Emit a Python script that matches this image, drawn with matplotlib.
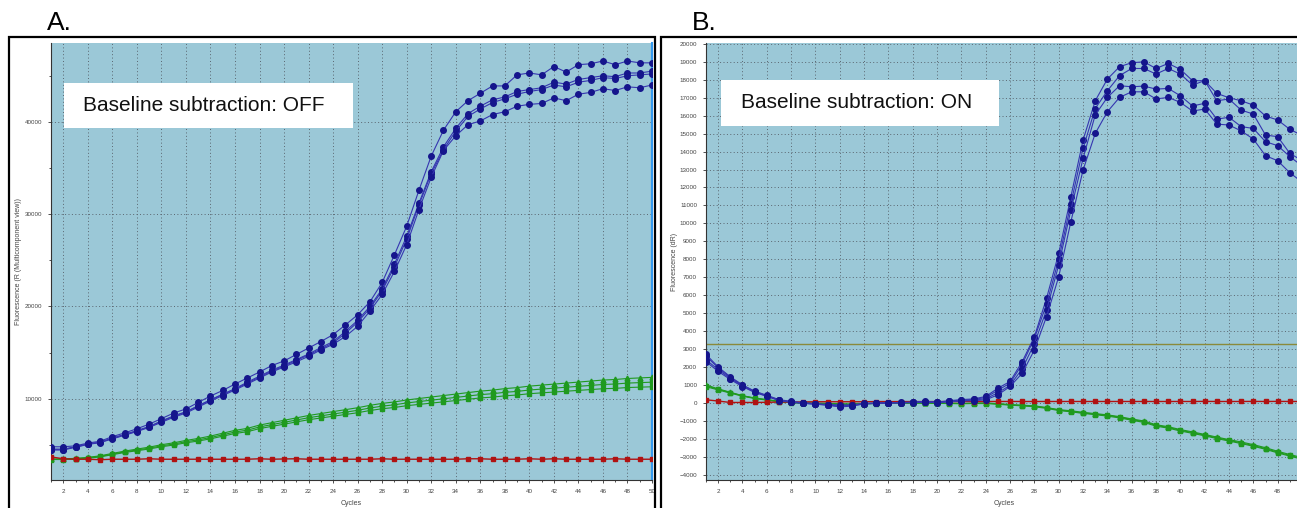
import matplotlib
matplotlib.use("Agg")
import matplotlib.pyplot as plt
from matplotlib.patches import Rectangle
from matplotlib.ticker import MultipleLocator, FixedLocator

plt.rcParams['font.family'] = ['Liberation Sans', 'DejaVu Sans']

cycles = list(range(1, 51))

# panel A - raw fluorescence (R)
a_blue1 = [4800, 4800, 4900, 5200, 5400, 5900, 6300, 6750, 7250, 7850,
           8450, 8900, 9600, 10300, 10900, 11600, 12250, 12900, 13600, 14100,
           14800, 15500, 16200, 16950, 18000, 19100, 20500, 22600, 25600, 28700,
           32600, 36300, 39100, 41100, 42300, 43100, 43900, 43900, 45100, 45300,
           45100, 46000, 45400, 46200, 46300, 46600, 46200, 46600, 46400, 46400]
a_blue2 = [4550, 4550, 4800, 5100, 5300, 5750, 6150, 6550, 7000, 7600,
           8150, 8600, 9250, 9900, 10500, 11100, 11800, 12450, 13100, 13650,
           14250, 14850, 15550, 16200, 17300, 18500, 20000, 21900, 24600, 27600,
           31200, 34600, 37300, 39300, 40900, 41700, 42400, 42700, 43300, 43500,
           43700, 44300, 44100, 44600, 44800, 45000, 44900, 45300, 45300, 45500]
a_blue3 = [4500, 4500, 4780, 5080, 5280, 5700, 6100, 6500, 6950, 7550,
           8100, 8550, 9200, 9850, 10450, 11050, 11700, 12350, 13000, 13550,
           14150, 14750, 15400, 16050, 17100, 18300, 19800, 21700, 24300, 27300,
           31000, 34400, 37000, 39000, 40600, 41400, 42100, 42500, 43000, 43300,
           43500, 44000, 43800, 44300, 44500, 44800, 44700, 45000, 45100, 45200]
a_blue4 = [4450, 4450, 4750, 5050, 5250, 5650, 6050, 6450, 6900, 7450,
           8000, 8450, 9100, 9750, 10350, 10950, 11600, 12250, 12900, 13450,
           14000, 14600, 15300, 15900, 16750, 17850, 19500, 21300, 23800, 26700,
           30500, 34000, 36900, 38500, 39700, 40100, 40800, 41100, 41700, 41900,
           42000, 42600, 42300, 43000, 43200, 43600, 43400, 43800, 43700, 44000]
a_green1 = [3450, 3480, 3550, 3650, 3820, 4080, 4330, 4550, 4760, 5020,
            5230, 5490, 5700, 5960, 6270, 6580, 6790, 7150, 7410, 7670,
            7930, 8190, 8400, 8610, 8820, 9030, 9290, 9500, 9660, 9870,
            10030, 10190, 10350, 10510, 10670, 10830, 10940, 11100, 11210, 11370,
            11480, 11590, 11700, 11810, 11920, 12030, 12090, 12200, 12260, 12320]
a_green2 = [3450, 3450, 3500, 3600, 3750, 4000, 4250, 4450, 4650, 4900,
            5100, 5350, 5550, 5800, 6100, 6400, 6600, 6950, 7200, 7450,
            7700, 7950, 8150, 8350, 8550, 8750, 9000, 9200, 9350, 9550,
            9700, 9850, 10000, 10150, 10300, 10450, 10550, 10700, 10800, 10950,
            11050, 11150, 11250, 11350, 11450, 11550, 11600, 11700, 11750, 11800]
a_green3 = [3420, 3420, 3470, 3560, 3700, 3940, 4180, 4370, 4560, 4800,
            4990, 5230, 5420, 5660, 5950, 6240, 6430, 6770, 7010, 7250,
            7490, 7730, 7920, 8110, 8300, 8490, 8730, 8920, 9060, 9250,
            9390, 9530, 9670, 9810, 9950, 10090, 10180, 10320, 10410, 10550,
            10640, 10730, 10820, 10910, 11000, 11090, 11130, 11220, 11260, 11300]
a_red = [3700, 3500, 3450, 3450, 3400, 3450, 3450, 3450, 3500, 3450,
         3450, 3450, 3450, 3450, 3450, 3450, 3450, 3500, 3450, 3480,
         3500, 3450, 3450, 3450, 3450, 3450, 3450, 3500, 3450, 3450,
         3450, 3450, 3450, 3450, 3500, 3500, 3450, 3450, 3450, 3500,
         3450, 3500, 3450, 3450, 3450, 3450, 3500, 3450, 3450, 3450]

# panel B - baseline subtracted (dR)
b_blue1 = [2700, 2000, 1450, 1000, 650, 420, 180, 80, 0, -50,
           -100, -120, -120, -30, -20, 0, 20, 40, 80, 40,
           120, 180, 220, 353, 817, 1190, 2300, 3690, 5830, 8330,
           11490, 14640, 16830, 18040, 18730, 18950, 19000, 18630, 18910, 18580,
           17950, 17950, 17240, 17000, 16830, 16590, 15980, 15760, 15240, 14900]
b_blue2 = [2600, 1950, 1400, 980, 630, 400, 160, 60, -10, -60,
           -110, -150, -140, -40, -20, 0, 10, 30, 60, 30,
           100, 150, 190, 300, 700, 1100, 2150, 3600, 5500, 8000,
           11100, 14180, 16400, 17390, 18230, 18630, 18630, 18320, 18630, 18320,
           17710, 17950, 16830, 16930, 16310, 16090, 14920, 14830, 13900, 13500]
b_blue3 = [2400, 1850, 1350, 950, 600, 380, 140, 40, -20, -70,
           -120, -200, -160, -50, -30, -10, 10, 20, 50, 20,
           80, 120, 150, 230, 560, 980, 1900, 3300, 5180, 7680,
           10750, 13620, 16040, 17020, 17670, 17610, 17650, 17480, 17520, 17110,
           16540, 16690, 15810, 15910, 15390, 15290, 14550, 14330, 13720, 13200]
b_blue4 = [2300, 1750, 1300, 900, 580, 360, 120, 30, -30, -80,
           -130, -230, -180, -60, -30, -10, 0, 10, 40, 10,
           60, 100, 120, 167, 445, 910, 1650, 2950, 4810, 7030,
           10100, 12970, 15010, 16220, 17020, 17330, 17330, 16930, 17020, 16740,
           16260, 16370, 15530, 15480, 15150, 14700, 13770, 13490, 12820, 12300]
b_green1 = [1000, 780, 590, 400, 270, 180, 90, 30, 0, -20,
            -30, -60, -70, -40, -20, -10, 0, 0, 0, -10,
            -20, -30, -20, -10, -50, -100, -130, -170, -260, -380,
            -440, -530, -600, -670, -770, -900, -1010, -1220, -1330, -1490,
            -1620, -1760, -1910, -2050, -2180, -2330, -2500, -2700, -2880, -3050]
b_green2 = [950, 750, 570, 390, 260, 170, 80, 20, -10, -30,
            -40, -70, -80, -50, -30, -20, -10, -10, -10, -20,
            -30, -40, -30, -20, -60, -110, -150, -190, -280, -400,
            -470, -560, -630, -700, -800, -930, -1050, -1260, -1370, -1530,
            -1660, -1800, -1950, -2090, -2230, -2380, -2550, -2750, -2930, -3100]
b_green3 = [900, 720, 540, 370, 240, 150, 60, 10, -20, -40,
            -50, -80, -90, -60, -40, -30, -20, -20, -20, -30,
            -40, -50, -40, -40, -80, -130, -170, -220, -310, -430,
            -500, -590, -660, -740, -840, -970, -1090, -1300, -1410, -1570,
            -1700, -1840, -1990, -2130, -2270, -2420, -2590, -2790, -2970, -3140]
b_red = [170, 100, 20, 20, 20, 30, 40, 50, 50, 60,
         60, 60, 60, 60, 70, 70, 70, 70, 70, 70,
         70, 70, 70, 75, 75, 75, 75, 75, 75, 75,
         75, 75, 75, 75, 75, 75, 75, 75, 75, 75,
         75, 80, 75, 75, 75, 80, 75, 80, 75, 75]
threshold = 3300

W, H = 1297, 508
BG = "#9bc8d7"
BLUE = "#15158c"
BLUE_LN = "#3535b0"
GREEN = "#1f9a1f"
RED = "#b01212"


def px_box(x0, y0, x1, y1):
    return [x0 / W, 1 - y1 / H, (x1 - x0) / W, (y1 - y0) / H]


def style_axes(ax, ymajor, yminor, ylabel, ypad):
    ax.set_facecolor(BG)
    ax.xaxis.set_minor_locator(MultipleLocator(1))
    ax.yaxis.set_major_locator(MultipleLocator(ymajor))
    ax.yaxis.set_minor_locator(MultipleLocator(yminor))
    ax.grid(True, which='major', color='#5a6670', linestyle=(0, (1, 2.5)), linewidth=0.7)
    ax.tick_params(which='both', direction='out', length=2.5, width=0.6,
                   labelsize=4.5, labelcolor='#444444', color='#333333', pad=4)
    ax.tick_params(which='minor', length=1.5)
    ax.spines['top'].set_visible(False)
    ax.spines['left'].set_color('#333333')
    ax.spines['bottom'].set_color('#333333')
    ax.set_xlabel('Cycles', fontsize=5, color='#444444', labelpad=4)
    ax.set_ylabel(ylabel, fontsize=5, color='#444444', labelpad=ypad)


def draw_set(ax, blues, greens, red):
    for s in blues:
        ax.plot(cycles, s, color=BLUE_LN, lw=0.8, marker='o', ms=4,
                mfc=BLUE, mec=BLUE, zorder=4)
    gm = ['^', 's', 's']
    for s, m in zip(greens, gm):
        ax.plot(cycles, s, color=GREEN, lw=0.8, marker=m, ms=3.5,
                mfc=GREEN, mec=GREEN, zorder=3)
    ax.plot(cycles, red, color=RED, lw=1.0, marker='s', ms=3.5,
            mfc=RED, mec=RED, zorder=3)


fig = plt.figure(figsize=(W / 100, H / 100), dpi=100)

# panel A
axA = fig.add_axes(px_box(51, 43, 652, 480))
axA.xaxis.set_major_locator(MultipleLocator(2))
style_axes(axA, 10000, 5000, 'Fluorescence (R (Multicomponent view))', 2)
draw_set(axA, [a_blue1, a_blue2, a_blue3, a_blue4],
         [a_green1, a_green2, a_green3], a_red)
axA.set_xlim(1, 50)
axA.set_ylim(1200, 48550)
axA.spines['right'].set_color('#3399ee')
axA.spines['right'].set_linewidth(1.5)

# panel B (its right end is cut off by the picture edge)
axB = fig.add_axes(px_box(706, 43, 1302, 480))
axB.xaxis.set_major_locator(FixedLocator(list(range(2, 50, 2))))
style_axes(axB, 1000, 500, 'Fluorescence (dR)', 1)
draw_set(axB, [b_blue1, b_blue2, b_blue3, b_blue4],
         [b_green1, b_green2, b_green3], b_red)
axB.axhline(threshold, color='#8a8a3a', lw=1.0, zorder=2)
axB.set_xlim(1, 50)
axB.set_ylim(-4300, 20050)
axB.yaxis.set_minor_locator(MultipleLocator(1000))
axB.spines['right'].set_visible(False)

# outer frames
fig.patches.append(Rectangle((9 / W, -0.01), (655 - 9) / W, 1 - 37 / H + 0.01,
                             transform=fig.transFigure, fill=False,
                             edgecolor='black', lw=1.6, zorder=10))
fig.patches.append(Rectangle((661 / W, -0.01), (1310 - 661) / W, 1 - 37 / H + 0.01,
                             transform=fig.transFigure, fill=False,
                             edgecolor='black', lw=1.6, zorder=10))

# annotation boxes
for (x0, y0, x1, y1), txt, tx in [((64, 83, 353, 128), 'Baseline subtraction: OFF', 83),
                                   ((721, 80, 999, 126), 'Baseline subtraction: ON', 741)]:
    fig.patches.append(Rectangle((x0 / W, 1 - y1 / H), (x1 - x0) / W, (y1 - y0) / H,
                                 transform=fig.transFigure, facecolor='white',
                                 edgecolor='none', zorder=20))
    fig.text(tx / W, 1 - ((y0 + y1) / 2) / H, txt, fontsize=15, va='center',
             ha='left', color='#111111', zorder=21)

fig.text(47 / W, 1 - 23 / H, 'A.', fontsize=19, va='center', ha='left')
fig.text(692 / W, 1 - 23 / H, 'B.', fontsize=19, va='center', ha='left')

fig.savefig('out.png', dpi=100)
